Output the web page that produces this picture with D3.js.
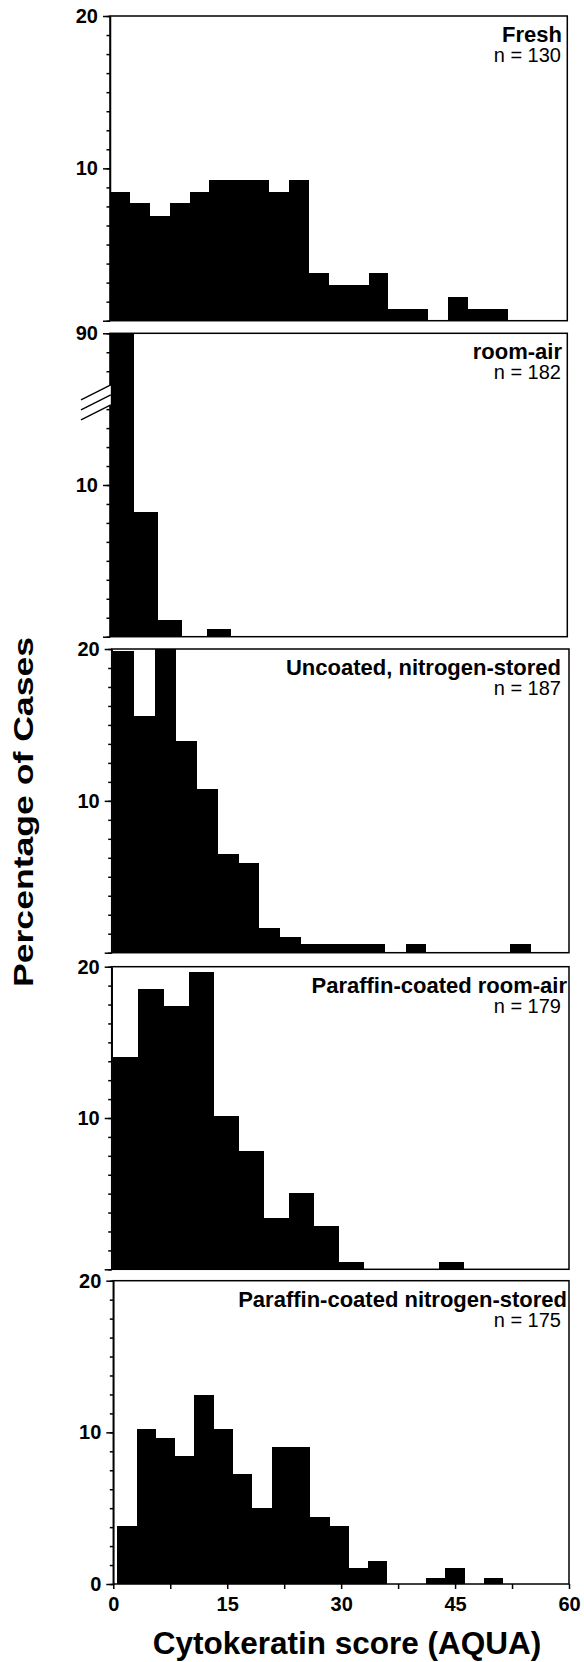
<!DOCTYPE html>
<html>
<head>
<meta charset="utf-8">
<script src="https://cdn.jsdelivr.net/npm/d3@7"></script>
<style>
  body { margin: 0; background: #fff; }
  text { font-family: "Liberation Sans", Arial, sans-serif; }
</style>
</head>
<body>
<div id="chart"></div>
<script>
// Chart data (percent of cases per bin)
const xTicks = [0, 15, 30, 45, 60];
const panelTitles = ["Fresh", "room-air", "Uncoated, nitrogen-stored", "Paraffin-coated room-air", "Paraffin-coated nitrogen-stored"];
const panelCounts = [130, 182, 187, 179, 175];
const yTickLabels = [["", "10", "20"], ["", "10", "90"], ["", "10", "20"], ["", "10", "20"], ["0", "10", "20"]];
const binStarts = [0, 0, 0.2, 0.22, 0.53];
const binWidths = [2.61, 3.17, 2.74, 3.29, 2.54];

const freshPct = [8.45, 7.7, 6.89, 7.7, 8.45, 9.23, 9.23, 9.23, 8.45, 9.23, 3.1, 2.32, 2.32, 3.1, 0.77, 0.77, 0, 1.54, 0.77, 0.77];
const roomAirPct = [90.1, 8.19, 1.09, 0, 0.48];
const uncoatedN2Pct = [19.9, 15.6, 20.5, 13.94, 10.78, 6.52, 5.88, 1.6, 1.05, 0.55, 0.55, 0.55, 0.55, 0, 0.55, 0, 0, 0, 0, 0.55];
const paraffinAirPct = [14.05, 18.52, 17.4, 19.67, 10.15, 7.84, 3.37, 5.02, 2.86, 0.51, 0, 0, 0, 0.51];
const paraffinN2Pct = [3.82, 10.2, 9.6, 8.44, 12.48, 10.2, 7.25, 4.99, 9.05, 9.05, 4.44, 3.82, 1.03, 1.54, 0, 0, 0.42, 1.03, 0, 0.42];

const series = [freshPct, roomAirPct, uncoatedN2Pct, paraffinAirPct, paraffinN2Pct];

// Layout of the stacked panels
const width = 584;
const height = 1662;
const tops = [16, 333.3, 649, 966.7, 1280.7];
const bottoms = [320.7, 636.7, 952.7, 1269.3, 1584];
const lefts = [110, 110, 111.7, 111.7, 113.3];
const rights = [567.3, 567.3, 569, 569, 569];
const titleRight = [562, 562, 561, 567, 567];

const svg = d3.select("#chart")
    .append("svg")
    .attr("width", width)
    .attr("height", height);

series.forEach((vals, i) => {
    const x = d3.scaleLinear().domain([0, 60]).range([lefts[i], rights[i]]);
    const y = d3.scaleLinear().domain([0, 20]).range([bottoms[i], tops[i]]).clamp(true);
    const g = svg.append("g");

    // histogram bins
    const bins = vals.map((v, k) => ({
        x0: binStarts[i] + k * binWidths[i],
        x1: binStarts[i] + (k + 1) * binWidths[i],
        v: v
    }));

    g.selectAll("rect.bar")
        .data(bins.filter(b => b.v > 0))
        .join("rect")
        .attr("class", "bar")
        .attr("x", d => x(d.x0))
        .attr("width", d => x(d.x1) - x(d.x0))
        .attr("y", d => y(d.v))
        .attr("height", d => y(0) - y(d.v))
        .attr("fill", "#000")
        .attr("shape-rendering", "crispEdges");

    // minor ticks
    const minor = g.append("g")
        .attr("transform", `translate(${lefts[i]},0)`)
        .call(d3.axisLeft(y).tickValues(d3.range(0, 20.001, 1.25)).tickSize(3.5).tickFormat(""));
    minor.select(".domain").remove();
    minor.selectAll("line").attr("stroke-width", 1.5);

    // major ticks + labels
    const major = g.append("g")
        .attr("transform", `translate(${lefts[i]},0)`)
        .call(d3.axisLeft(y).tickValues([0, 10, 20]).tickSize(7).tickSizeOuter(0).tickPadding(5)
            .tickFormat((d, k) => yTickLabels[i][k]));
    major.select(".domain").attr("stroke-width", 1.5);
    major.selectAll("line").attr("stroke-width", 1.5);
    major.selectAll("text")
        .style("font-size", "20px")
        .style("font-weight", "bold")
        .attr("fill", "#000");

    // frame
    g.append("rect")
        .attr("x", lefts[i])
        .attr("y", tops[i])
        .attr("width", rights[i] - lefts[i])
        .attr("height", bottoms[i] - tops[i])
        .attr("fill", "none")
        .attr("stroke", "#000")
        .attr("stroke-width", 1.5);

    // panel labels
    g.append("text")
        .attr("x", titleRight[i])
        .attr("y", tops[i] + 26)
        .attr("text-anchor", "end")
        .style("font-size", "22px")
        .style("font-weight", "bold")
        .text(panelTitles[i]);
    g.append("text")
        .attr("x", 561)
        .attr("y", tops[i] + 46)
        .attr("text-anchor", "end")
        .style("font-size", "20px")
        .text(`n = ${panelCounts[i]}`);

    // axis break on the room-air panel
    if (i === 1) {
        const yb = y(16.6);
        g.append("path")
            .attr("d", `M${lefts[i] - 29},${yb + 15} L${lefts[i] + 0.8},${yb} L${lefts[i] + 0.8},${yb + 20} L${lefts[i] - 29},${yb + 35} Z`)
            .attr("fill", "#fff");
        [0, 10, 20].forEach(d => {
            g.append("line")
                .attr("x1", lefts[i] - 29).attr("y1", yb + 15 + d)
                .attr("x2", lefts[i] + 0.8).attr("y2", yb + d)
                .attr("stroke", "#000")
                .attr("stroke-width", 1.3);
        });
    }

    // x axis on the bottom panel only
    if (i === series.length - 1) {
        const xa = g.append("g")
            .attr("transform", `translate(0,${bottoms[i]})`)
            .call(d3.axisBottom(x).tickValues(d3.range(0, 60.001, 7.5)).tickSize(5).tickPadding(8)
                .tickFormat(d => xTicks.includes(d) ? d : ""));
        xa.select(".domain").remove();
        xa.selectAll("line").attr("stroke-width", 1.5);
        xa.selectAll("text")
            .style("font-size", "20px")
            .style("font-weight", "bold")
            .attr("fill", "#000");
    }
});

// axis titles
svg.append("text")
    .attr("x", 347)
    .attr("y", 1654)
    .attr("text-anchor", "middle")
    .style("font-size", "31.5px")
    .style("font-weight", "bold")
    .text("Cytokeratin score (AQUA)");

svg.append("text")
    .attr("transform", "translate(33,812) rotate(-90)")
    .attr("text-anchor", "middle")
    .attr("textLength", 350)
    .attr("lengthAdjust", "spacingAndGlyphs")
    .style("font-size", "28px")
    .style("font-weight", "bold")
    .text("Percentage of Cases");
</script>
</body>
</html>
